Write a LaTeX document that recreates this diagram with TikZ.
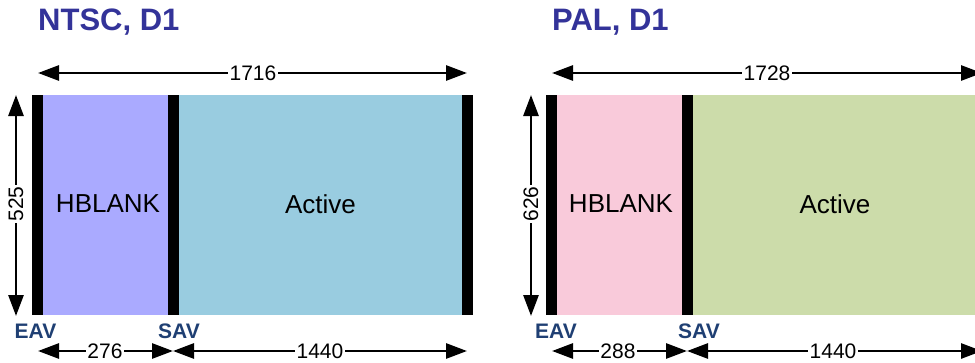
\documentclass[tikz,border=0pt]{standalone}
\usepackage{fontspec}
\setmainfont{Liberation Sans}
\usetikzlibrary{arrows.meta}
\definecolor{titleblue}{HTML}{333399}
\definecolor{markblue}{HTML}{1F3F73}
\definecolor{hbpurple}{HTML}{AAAAFF}
\definecolor{actblue}{HTML}{99CCE0}
\definecolor{hbpink}{HTML}{F9CADA}
\definecolor{actgreen}{HTML}{CCDCAA}
\tikzset{
  dimline/.style={line width=2.8pt, {Triangle[length=21pt,width=15pt]}-{Triangle[length=21pt,width=15pt]}},
  dimlabel/.style={fill=white, inner sep=1.5pt, font=\fontsize{21}{21}\selectfont},
  titletext/.style={font=\fontsize{31}{31}\selectfont\bfseries, text=titleblue, anchor=base west, inner sep=0pt},
  marktext/.style={font=\fontsize{21}{21}\selectfont\bfseries, text=markblue, inner sep=0pt},
  regiontext/.style={font=\fontsize{26}{26}\selectfont, inner sep=0pt},
  bar/.style={fill=black, draw=none, inner sep=0pt, minimum width=11pt, minimum height=220pt, anchor=north west},
}
\begin{document}
\begin{tikzpicture}[x=1pt,y=-1pt]
\useasboundingbox (0,0) rectangle (975,362);
\clip (0,0) rectangle (975,362);
% ---------------- NTSC ----------------
\node[titletext] (ntsctitle) at (38,30) {NTSC, D1};
\node[fill=hbpurple, inner sep=0pt, minimum width=125pt, minimum height=220pt, anchor=north west] (ntschb) at (43,95) {};
\node[fill=actblue, inner sep=0pt, minimum width=283pt, minimum height=220pt, anchor=north west] (ntscact) at (179,95) {};
\node[bar] (ntscb1) at (32,95) {};
\node[bar] (ntscb2) at (168,95) {};
\node[bar] (ntscb3) at (462,95) {};
\node[regiontext] (ntschbt) at (108,204) {HBLANK};
\node[regiontext] (ntscactt) at (320.5,204) {Active};
\coordinate (ntsctl) at (38,73);
\coordinate (ntsctr) at (467,73);
\draw[dimline] (ntsctl) -- (ntsctr);
\node[dimlabel] (ntsctot) at (253,73) {1716};
\coordinate (ntscvt) at (16,95);
\coordinate (ntscvb) at (16,316);
\draw[dimline] (ntscvt) -- (ntscvb);
\node[dimlabel, rotate=90] (ntscv) at (16,204) {525};
\node[marktext] (ntsceav) at (35.5,331) {EAV};
\node[marktext] (ntscsav) at (179,331) {SAV};
\coordinate (ntscbl) at (38,351);
\coordinate (ntscbm) at (173,351);
\coordinate (ntscbr) at (467,351);
\draw[dimline] (ntscbl) -- (ntscbm);
\draw[dimline] (ntscbm) -- (ntscbr);
\node[dimlabel] (ntschbw) at (105,351) {276};
\node[dimlabel] (ntscactw) at (320,351) {1440};
% ---------------- PAL ----------------
\node[titletext] (paltitle) at (552,30) {PAL, D1};
\node[fill=hbpink, inner sep=0pt, minimum width=125pt, minimum height=220pt, anchor=north west] (palhb) at (557,95) {};
\node[fill=actgreen, inner sep=0pt, minimum width=285pt, minimum height=220pt, anchor=north west] (palact) at (693,95) {};
\node[bar] (palb1) at (546,95) {};
\node[bar] (palb2) at (682,95) {};
\node[bar] (palb3) at (978,95) {};
\node[regiontext] (palhbt) at (621,204) {HBLANK};
\node[regiontext] (palactt) at (835,204) {Active};
\coordinate (paltl) at (552,73);
\coordinate (paltr) at (982,73);
\draw[dimline] (paltl) -- (paltr);
\node[dimlabel] (paltot) at (767,73) {1728};
\coordinate (palvt) at (531,95);
\coordinate (palvb) at (531,316);
\draw[dimline] (palvt) -- (palvb);
\node[dimlabel, rotate=90] (palv) at (531,204) {626};
\node[marktext] (paleav) at (556,331) {EAV};
\node[marktext] (palsav) at (699,331) {SAV};
\coordinate (palbl) at (552,351);
\coordinate (palbm) at (687,351);
\coordinate (palbr) at (982,351);
\draw[dimline] (palbl) -- (palbm);
\draw[dimline] (palbm) -- (palbr);
\node[dimlabel] (palhbw) at (618,351) {288};
\node[dimlabel] (palactw) at (833,351) {1440};
\end{tikzpicture}
\end{document}
